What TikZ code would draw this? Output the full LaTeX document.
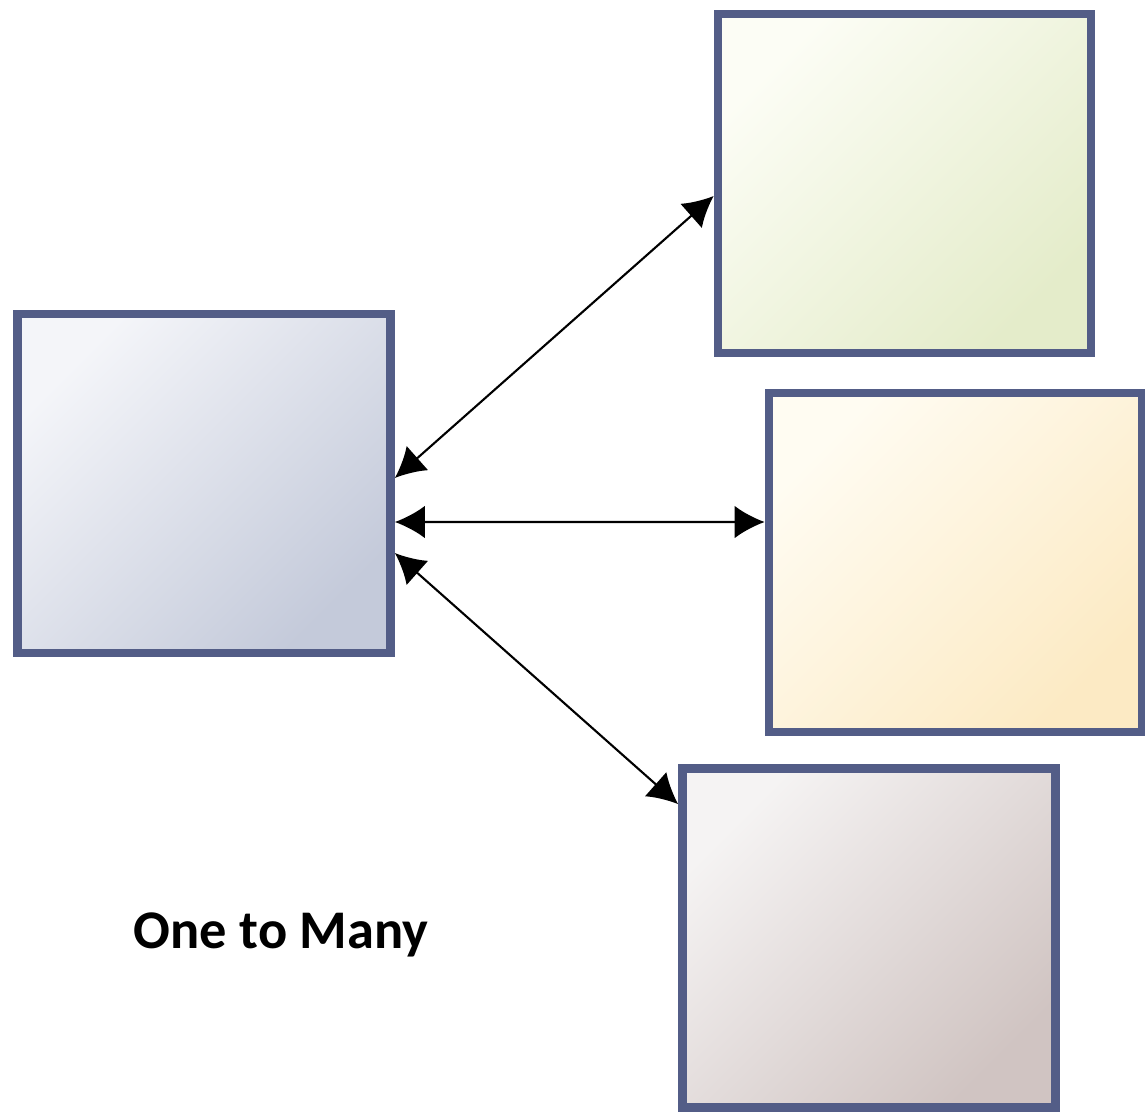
\documentclass[tikz,border=0pt]{standalone}
\usepackage{fontspec}
\setmainfont{Carlito}
\usetikzlibrary{arrows.meta}

\definecolor{boxline}{HTML}{535D87}

\begin{document}
\begin{tikzpicture}[
    x=0.02cm, y=-0.02cm,
    % box and arrow styles
    entity/.style={rectangle, draw=boxline, line width=5pt, minimum width=7.46cm, minimum height=6.78cm},
    one/.style={entity, top color={rgb,255:red,244;green,245;blue,249}, bottom color={rgb,255:red,196;green,202;blue,218}, shading angle=45},
    manyA/.style={entity, top color={rgb,255:red,252;green,253;blue,245}, bottom color={rgb,255:red,228;green,236;blue,202}, shading angle=45},
    manyB/.style={entity, top color={rgb,255:red,255;green,252;blue,242}, bottom color={rgb,255:red,252;green,234;blue,196}, shading angle=45},
    manyC/.style={entity, top color={rgb,255:red,245;green,243;blue,243}, bottom color={rgb,255:red,208;green,196;blue,194}, shading angle=45},
    link/.style={{Latex[length=6mm,width=6.5mm]}-{Latex[length=6mm,width=6.5mm]}, line width=1.2pt, black},
    caption/.style={font=\bfseries\fontsize{31}{36}\selectfont}
]
    \useasboundingbox (0,0) rectangle (1145,1114);

    % --- boxes ---
    \node[one] (parent) at (204,483.5) {};
    \node[manyA] (childA) at (904.5,183.5) {};
    \node[manyB] (childB) at (955.5,562.5) {};
    \node[manyC] (childC) at (869,938) {};

    % --- links ---
    \draw[link] ([yshift=0.11cm]parent.east) -- ([yshift=-0.25cm]childA.west);
    \draw[link] ([yshift=-0.77cm]parent.east) -- ([yshift=0.81cm]childB.west);
    \draw[link] ([yshift=-1.39cm]parent.east) -- ([yshift=-0.8cm]childC.north west);

    % --- caption ---
    \node[caption] (title) at (281,935) {One to Many};

\end{tikzpicture}
\end{document}
